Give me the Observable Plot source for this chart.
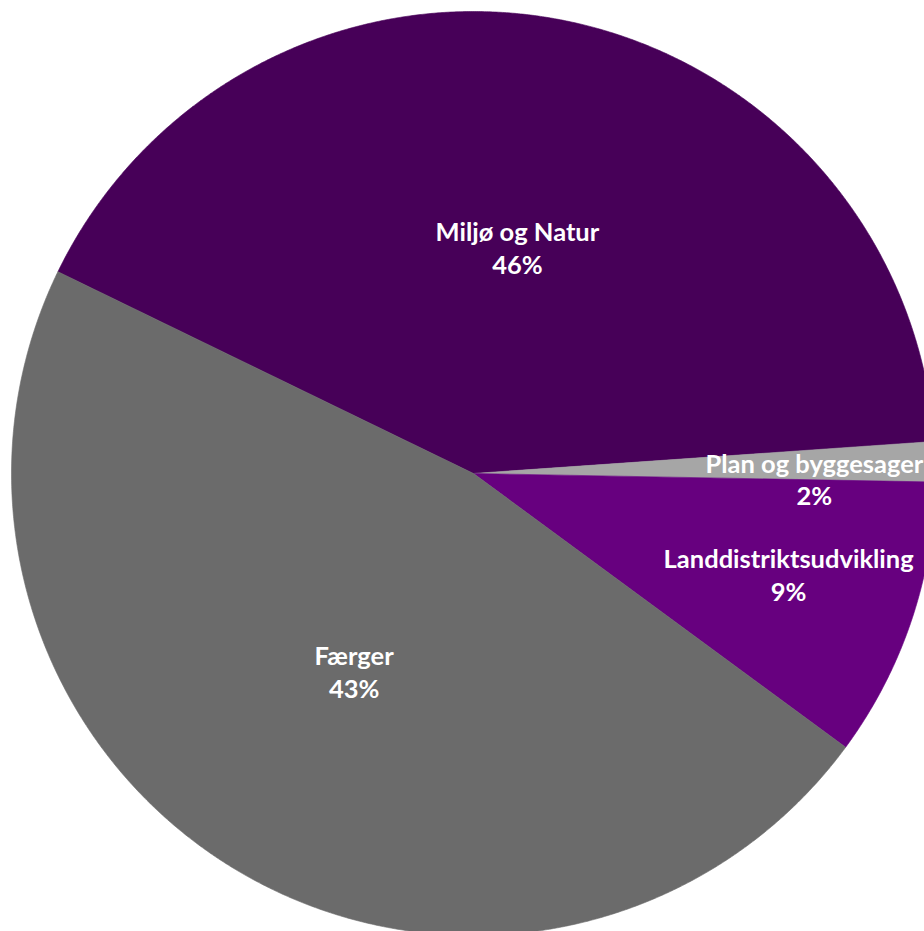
<!DOCTYPE html>
<html><head><meta charset="utf-8">
<script src="https://cdn.jsdelivr.net/npm/d3@7"></script>
<script src="https://cdn.jsdelivr.net/npm/@observablehq/plot@0.6"></script>
<style>html,body{margin:0;padding:0;background:#fff;overflow:hidden;}</style>
</head><body><div id="chart"></div>
<script>
const categories = ["Miljø og Natur", "Plan og byggesager", "Landdistriktsudvikling", "Færger"];
const shares = [41.7, 1.4, 9.8, 47.1];
const percentLabels = ["46%", "2%", "9%", "43%"];
const sliceColors = ["#470058", "#a6a6a6", "#67007f", "#6b6b6b"];

// Layout / style
const W = 924, H = 931, cx = 473, cy = 473, R = 462;
const startDeg = -64.1;
const labelRadius = [0.50, 0.738, 0.716, 0.50];
const labelAngleNudge = [0, 2.3, -1.0, 0];

const total = d3.sum(shares);
let acc = startDeg;
const slices = categories.map((c, i) => {
  const a0 = acc, a1 = acc + shares[i] / total * 360;
  acc = a1;
  return {c, i, a0, a1};
});
const pts = [];
slices.forEach(s => {
  pts.push({c: s.c, x: 0, y: 0});
  const n = Math.max(2, Math.ceil((s.a1 - s.a0) / 0.25));
  for (let k = 0; k <= n; k++) {
    const a = (s.a0 + (s.a1 - s.a0) * k / n) * Math.PI / 180;
    pts.push({c: s.c, x: Math.sin(a), y: Math.cos(a)});
  }
  pts.push({c: s.c, x: 0, y: 0});
});
const labels = slices.map(s => {
  const a = ((s.a0 + s.a1) / 2 + labelAngleNudge[s.i]) * Math.PI / 180;
  const r = labelRadius[s.i];
  return {text: s.c + "\n" + percentLabels[s.i], x: r * Math.sin(a), y: r * Math.cos(a)};
});

const chart = Plot.plot({
  width: W, height: H,
  margin: 0,
  x: {domain: [-cx / R, (W - cx) / R], range: [0, W], axis: null},
  y: {domain: [-(H - cy) / R, cy / R], range: [H, 0], axis: null},
  color: {domain: categories, range: sliceColors},
  style: {background: "#fff"},
  marks: [
    Plot.line(pts, {x: "x", y: "y", z: "c", fill: "c", stroke: "c", strokeWidth: 0.6, curve: "linear"}),
    Plot.text(labels, {x: "x", y: "y", text: "text", fill: "white", fontSize: 25.5, fontWeight: "bold",
      fontFamily: "Lato, 'Open Sans', sans-serif", lineHeight: 1.29, textAnchor: "middle"})
  ]
});
document.getElementById("chart").appendChild(chart);
</script>
</body></html>
